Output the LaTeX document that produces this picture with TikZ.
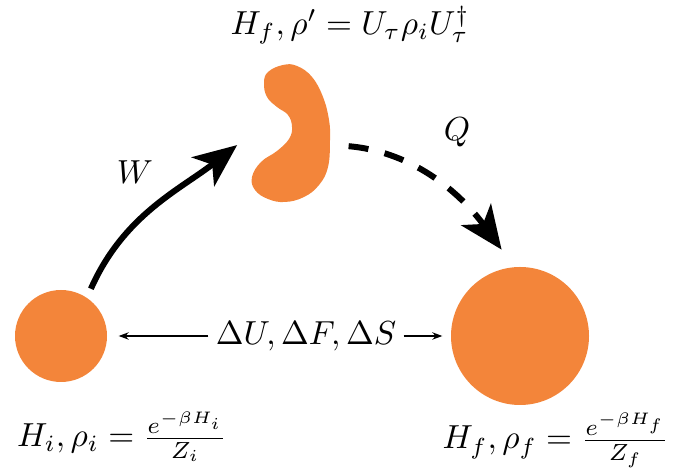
\documentclass[tikz,border=0pt]{standalone}
\usepackage{amsmath}
\usepackage{tikz}
\usetikzlibrary{positioning,arrows.meta}
\definecolor{c1}{HTML}{F3853A}

\begin{document}
\begin{tikzpicture}[x=0.3pt, y=0.3pt,
  ball/.style={circle, fill=c1, inner sep=0pt},
  bigarr/.style={line width=1.8pt, -{Stealth[length=13pt, width=11pt, inset=3.5pt]}},
  thinarr/.style={semithick, -{Stealth[length=3pt, width=2.2pt]}},
  lbl/.style={inner sep=1pt}]
  \useasboundingbox (0,0) rectangle (688,472);
  % states
  \node[ball, minimum size=27.6pt] (ini) at (61,136) {};
  \node[ball, minimum size=41.4pt] (fin) at (520,136) {};
  \fill[c1] plot[smooth cycle, tension=0.7] coordinates {
    (283,407) (268,400) (264,389) (267,375) (277,365) (288,357) (292,345)
    (289,333) (277,321) (261,310) (252,295) (255,282) (268,273) (285,270)
    (304,275) (319,287) (328,305) (330,332) (329,352) (323,375) (312,395) (297,406)};
  \node[inner sep=0pt, minimum width=23.4pt, minimum height=41.1pt] (mid) at (291,338) {};
  % labels
  \node[lbl] (tl) at (350,447) {$H_f, \rho' = U_\tau \rho_i U_\tau^\dagger$};
  \node[lbl] (il) at (122,35) {$H_i, \rho_i = \frac{e^{-\beta H_i}}{Z_i}$};
  \node[lbl] (fl) at (556,32) {$H_f, \rho_f = \frac{e^{-\beta H_f}}{Z_f}$};
  \node[lbl, inner sep=2pt] (dl) at (306,136) {$\Delta U, \Delta F, \Delta S$};
  % processes
  \draw[bigarr, shorten <=2.8pt, shorten >=5.4pt] (ini.56) to[out=66, in=-142] (mid.west);
  \draw[bigarr, dash pattern=on 6pt off 5pt, shorten <=5.4pt, shorten >=6.3pt]
    (mid.-15) to[out=-5, in=126] (fin.95);
  \node[lbl] (w) at (135,300) {$W$};
  \node[lbl] (q) at (457,340) {$Q$};
  \draw[thinarr, shorten >=3.3pt] (dl) -- (ini);
  \draw[thinarr, shorten >=2.4pt] (dl) -- (fin);
\end{tikzpicture}
\end{document}
